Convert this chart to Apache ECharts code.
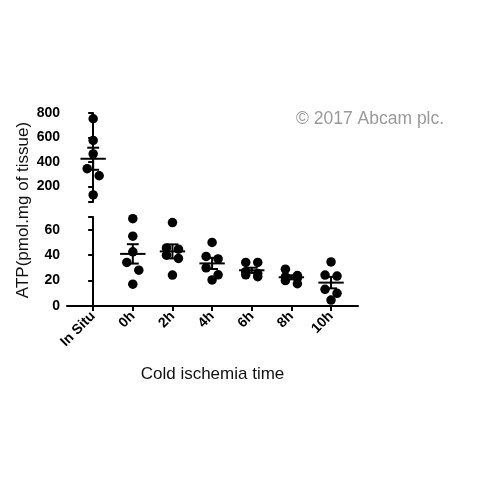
<!DOCTYPE html>
<html><head><meta charset="utf-8">
<script src="https://cdn.jsdelivr.net/npm/echarts@6/dist/echarts.min.js"></script>
<style>html,body{margin:0;padding:0;background:#fff}#c{width:500px;height:500px}</style>
</head><body><div id="c"></div>
<script>
const categories = ['In Situ', '0h', '2h', '4h', '6h', '8h', '10h'];
const inSitu = [753, 576, 465, 345, 287, 130];
const h0 = [68.7, 54.9, 42.6, 34.3, 28.2, 17.2];
const h2 = [65.6, 45.7, 44.7, 40, 37.4, 24.3];
const h4 = [50, 39, 37, 30, 24.5, 20.5];
const h6 = [34.3, 34.3, 27, 25.5, 24.5, 23];
const h8 = [29, 24, 23, 22, 20, 17.5];
const h10 = [34.7, 24.3, 23.5, 13.1, 10, 4.7];
const upperTicks = [200, 400, 600, 800];
const lowerTicks = [0, 20, 40, 60];
const catIndex = [0, 1, 2, 3, 4, 5, 6];

// layout
const L = 67, W = 291;
const UT = 113, UH = 89, LT = 217, LH = 89;
const uMin = 72.5, uMax = 800, lMin = 0, lMax = 70;
const xMin = -0.66, xMax = 6.68;
const pxPerCat = W / (xMax - xMin);
const DOT = 9.5;

function swarm(vals, cat, pxPerUnit) {
  const idx = vals.map((v, i) => i).sort((a, b) => vals[b] - vals[a]);
  const rows = [];
  idx.forEach(i => {
    const r = rows[rows.length - 1];
    if (r && r.length < 2 && (vals[r[0]] - vals[i]) * pxPerUnit < 8) r.push(i);
    else rows.push([i]);
  });
  const out = [];
  rows.forEach(r => r.forEach((i, k) => out.push([cat + (k - (r.length - 1) / 2) * 12 / pxPerCat, vals[i]])));
  return out;
}
function stats(a, cat) {
  const m = a.reduce((s, v) => s + v, 0) / a.length;
  const sd = Math.sqrt(a.reduce((s, v) => s + (v - m) * (v - m), 0) / (a.length - 1));
  return [cat, m, sd / Math.sqrt(a.length)];
}
const lowerGroups = [h0, h2, h4, h6, h8, h10];
const upperPx = UH / (uMax - uMin), lowerPx = LH / (lMax - lMin);
const upperPts = swarm(inSitu, catIndex[0], upperPx);
let lowerPts = [];
lowerGroups.forEach((g, i) => { lowerPts = lowerPts.concat(swarm(g, catIndex[i + 1], lowerPx)); });
const upperStats = [stats(inSitu, catIndex[0])];
const lowerStats = lowerGroups.map((g, i) => stats(g, catIndex[i + 1]));

function renderMean(params, api) {
  const x = api.value(0), m = api.value(1), se = api.value(2);
  const c = api.coord([x, m]), t = api.coord([x, m + se]), b = api.coord([x, m - se]);
  const cw = api.size([1, 0])[0];
  const hw = cw * 0.32, cap = cw * 0.15;
  const st = { stroke: '#000', lineWidth: 2 };
  return { type: 'group', children: [
    { type: 'line', shape: { x1: c[0] - hw, y1: c[1], x2: c[0] + hw, y2: c[1] }, style: st },
    { type: 'line', shape: { x1: c[0], y1: t[1], x2: c[0], y2: b[1] }, style: st },
    { type: 'line', shape: { x1: c[0] - cap, y1: t[1], x2: c[0] + cap, y2: t[1] }, style: st },
    { type: 'line', shape: { x1: c[0] - cap, y1: b[1], x2: c[0] + cap, y2: b[1] }, style: st }
  ]};
}

const FONT = '"Liberation Sans", Arial, sans-serif';
const axisLine = { show: true, lineStyle: { color: '#000', width: 2 } };
const chart = echarts.init(document.getElementById('c'));
chart.setOption({
  backgroundColor: '#fff',
  animation: false,
  grid: [
    { left: L, width: W, top: UT, height: UH },
    { left: L, width: W, top: LT, height: LH }
  ],
  xAxis: [
    { gridIndex: 0, type: 'value', min: xMin, max: xMax, show: false },
    { gridIndex: 1, type: 'value', min: xMin, max: xMax,
      axisLine: axisLine, splitLine: { show: false },
      axisTick: { show: true, length: 5, lineStyle: { color: '#000', width: 2 }, customValues: catIndex },
      axisLabel: { customValues: catIndex, rotate: 45, margin: 8, color: '#000', fontSize: 14, fontWeight: 'bold', fontFamily: FONT,
        formatter: v => categories[Math.round(v)] },
      name: 'Cold ischemia time', nameLocation: 'middle', nameGap: 60,
      nameTextStyle: { color: '#111', fontSize: 17, fontFamily: FONT }
    }
  ],
  yAxis: [
    { gridIndex: 0, type: 'value', min: uMin, max: uMax, axisLine: axisLine, splitLine: { show: false },
      axisTick: { show: true, length: 5, lineStyle: { color: '#000', width: 2 }, customValues: [uMin].concat(upperTicks) },
      axisLabel: { customValues: upperTicks, color: '#000', fontSize: 14, fontWeight: 'bold', fontFamily: FONT, margin: 7 } },
    { gridIndex: 1, type: 'value', min: lMin, max: lMax, axisLine: axisLine, splitLine: { show: false },
      axisTick: { show: true, length: 5, lineStyle: { color: '#000', width: 2 }, customValues: lowerTicks.concat([lMax]) },
      axisLabel: { customValues: lowerTicks, color: '#000', fontSize: 14, fontWeight: 'bold', fontFamily: FONT, margin: 7 } }
  ],
  series: [
    { type: 'scatter', xAxisIndex: 0, yAxisIndex: 0, data: upperPts, symbolSize: DOT, itemStyle: { color: '#000', opacity: 1 } },
    { type: 'scatter', xAxisIndex: 1, yAxisIndex: 1, data: lowerPts, symbolSize: DOT, itemStyle: { color: '#000', opacity: 1 } },
    { type: 'custom', xAxisIndex: 0, yAxisIndex: 0, data: upperStats, renderItem: renderMean, z: 5 },
    { type: 'custom', xAxisIndex: 1, yAxisIndex: 1, data: lowerStats, renderItem: renderMean, z: 5 }
  ],
  graphic: [
    { type: 'text', x: 23, y: 210, rotation: Math.PI / 2,
      style: { text: 'ATP(pmol.mg of tissue)', fill: '#111', font: '17px ' + FONT, align: 'center', verticalAlign: 'middle' } },
    { type: 'text', x: 296, y: 119,
      style: { text: '\u00a9 2017 Abcam plc.', fill: '#9a9a9a', font: '17.5px ' + FONT, align: 'left', verticalAlign: 'middle' } }
  ]
});
</script></body></html>
